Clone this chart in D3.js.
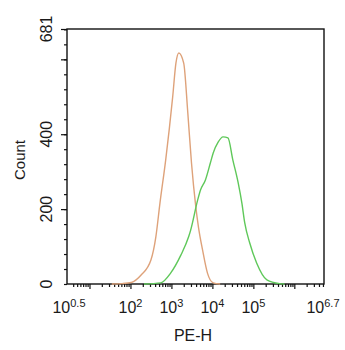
<!DOCTYPE html>
<html>
<head>
<meta charset="utf-8">
<script src="https://cdn.jsdelivr.net/npm/d3@7"></script>
<style>
  body { margin: 0; background: #fff; }
  text { font-family: "Liberation Sans", Arial, sans-serif; fill: #1a1a1a; }
</style>
</head>
<body>
<div id="container"></div>
<script>
let w = 345;
let h = 350;

// orange histogram (isotype control), PE-H value vs count
let isoPE    = [35, 63, 105, 182, 316, 417, 525, 724, 1072, 1288, 1514, 1995, 2512, 3090, 3890, 4571, 5754, 7586, 10471, 15488];
let isoCount = [0, 1, 4, 24, 64, 126, 216, 331, 499, 590, 617, 590, 457, 323, 211, 152, 91, 29, 3, 0];

// green histogram (stained sample)
let abPE    = [214, 550, 955, 1698, 2630, 2951, 4365, 5129, 6761, 8913, 10471, 13804, 18197, 23988, 31623, 42658, 52481, 61660, 81283, 120226, 213796, 436516, 575440];
let abCount = [0, 3, 29, 77, 126, 144, 224, 251, 278, 323, 350, 379, 393, 390, 331, 270, 216, 163, 110, 56, 11, 1, 0];

// tick labels
let xLabelExps = ["0.5", "2", "3", "4", "5", "6.7"];
let yLabels = [0, 200, 400, 681];
let yMajor = [200, 400, 600];

let mLeft = 67, mRight = 324, mTop = 29, mBottom = 284;

let svg = d3.select("#container").append("svg")
            .attr("width", w)
            .attr("height", h);

let x = d3.scaleLog()
          .domain([Math.pow(10, 0.5), Math.pow(10, 6.7)])
          .range([69, 323]);

let y = d3.scaleLinear()
          .domain([0, 681])
          .range([mBottom, mTop]);

// x ticks: minor at 2..9 of every decade, major at powers of ten
let allX = x.ticks().filter(d => d > x.domain()[0] && d < x.domain()[1]);
let isPow = d => Math.abs(Math.log10(d) - Math.round(Math.log10(d))) < 1e-9;
let xMajor = allX.filter(isPow);
let xMinor = allX.filter(d => !isPow(d));

let gx1 = svg.append("g").attr("transform", `translate(0,${mBottom})`)
             .call(d3.axisBottom(x).tickValues(xMinor).tickSize(3).tickFormat(""));
let gx2 = svg.append("g").attr("transform", `translate(0,${mBottom})`)
             .call(d3.axisBottom(x).tickValues(xMajor).tickSize(5).tickFormat(""));

let gy1 = svg.append("g").attr("transform", `translate(${mLeft},0)`)
             .call(d3.axisLeft(y).tickValues(d3.range(0, 681, 40)).tickSize(3).tickFormat(""));
let gy2 = svg.append("g").attr("transform", `translate(${mLeft},0)`)
             .call(d3.axisLeft(y).tickValues(yMajor.concat([681])).tickSize(6).tickFormat(""));

[gx1, gx2, gy1, gy2].forEach(g => {
  g.select(".domain").remove();
  g.selectAll("line").attr("stroke", "#111").attr("stroke-width", 1.2);
});

// frame
svg.append("rect")
   .attr("x", mLeft).attr("y", mTop)
   .attr("width", mRight - mLeft).attr("height", mBottom - mTop)
   .attr("fill", "none")
   .attr("stroke", "#111")
   .attr("stroke-width", 1.4);

// x tick labels 10^n
xLabelExps.forEach(e => {
  let t = svg.append("text")
             .attr("x", x(Math.pow(10, +e)))
             .attr("y", 313)
             .attr("text-anchor", "middle")
             .style("font-size", "16px");
  t.append("tspan").text("10");
  t.append("tspan").attr("dy", -6).style("font-size", "11px").text(e);
});

// y tick labels (rotated)
yLabels.forEach(v => {
  svg.append("text")
     .attr("transform", `translate(52,${y(v)}) rotate(-90)`)
     .attr("text-anchor", "middle")
     .style("font-size", "16px")
     .text(v);
});

svg.append("text")
   .attr("transform", `translate(25,160) rotate(-90)`)
   .attr("text-anchor", "middle")
   .style("font-size", "15px")
   .text("Count");

svg.append("text")
   .attr("x", 193)
   .attr("y", 341)
   .attr("text-anchor", "middle")
   .style("font-size", "16px")
   .text("PE-H");

let line = d3.line()
             .x(d => x(d[0]))
             .y(d => y(d[1]))
             .curve(d3.curveMonotoneX);

svg.append("path")
   .datum(isoPE.map((d, i) => [d, isoCount[i]]))
   .attr("d", line)
   .attr("fill", "none")
   .attr("stroke", "#dea27a")
   .attr("stroke-width", 1.4);

svg.append("path")
   .datum(abPE.map((d, i) => [d, abCount[i]]))
   .attr("d", line)
   .attr("fill", "none")
   .attr("stroke", "#5fc85a")
   .attr("stroke-width", 1.4);
</script>
</body>
</html>
